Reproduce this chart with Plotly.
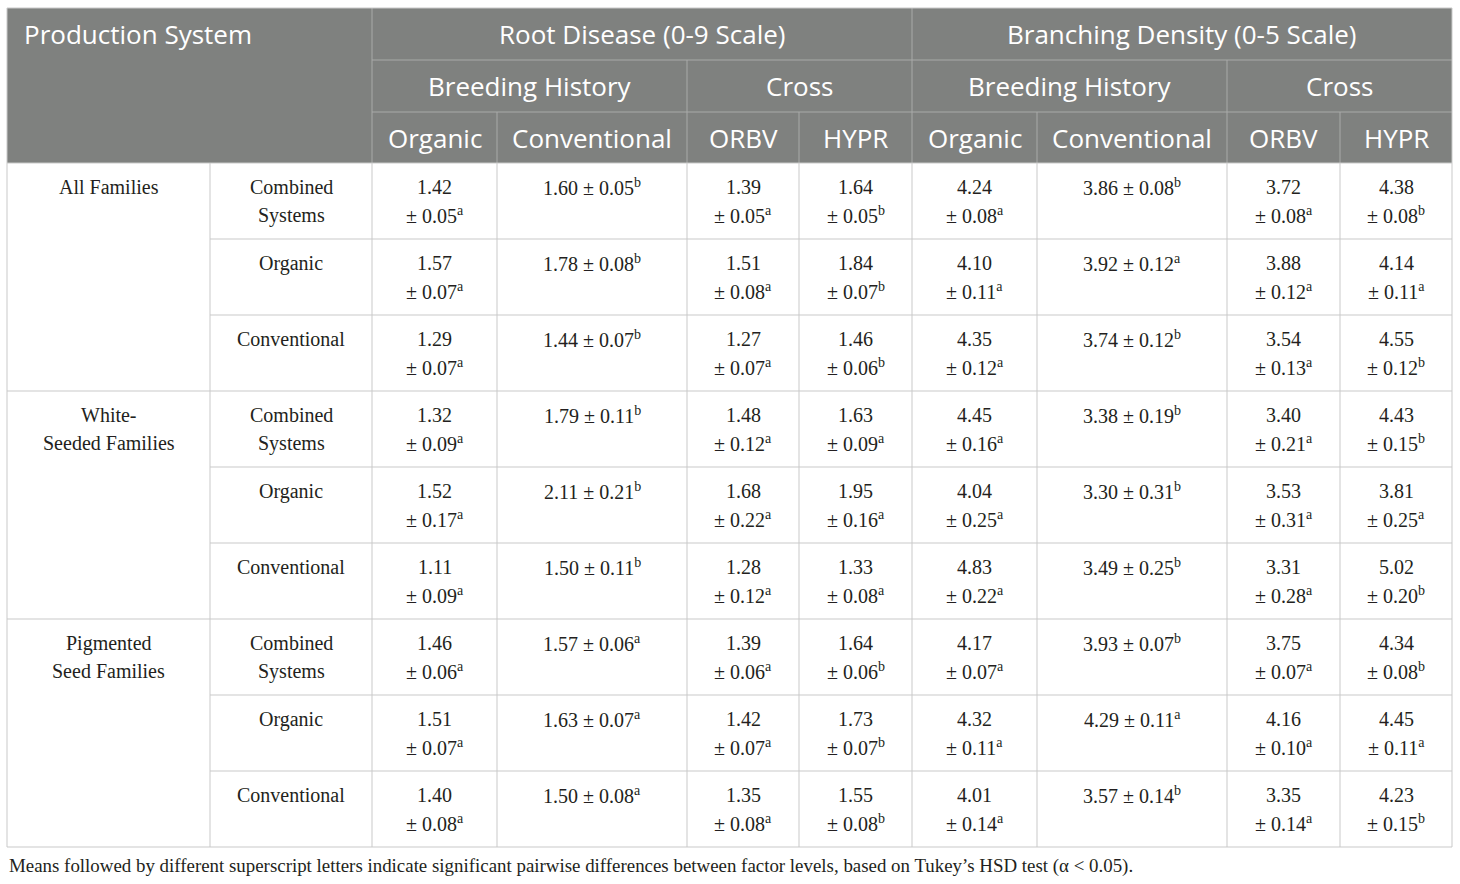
"""
Table of root disease and branching density means by production system,
redrawn with Plotly shapes and annotations.
"""

from plotly import graph_objects as go

# ---- table text / data ------------------------------------------------------
GROUPS = ["All Families", "White-<br>Seeded Families", "Pigmented<br>Seed Families"]
SYSTEMS = ["Combined<br>Systems", "Organic", "Conventional"]

TRAITS = ["Root Disease (0-9 Scale)", "Branching Density (0-5 Scale)"]
FACTORS = ["Breeding History", "Cross"]
LEVELS = ["Organic", "Conventional", "ORBV", "HYPR"]

rd_org_mean = [1.42, 1.57, 1.29, 1.32, 1.52, 1.11, 1.46, 1.51, 1.40]
rd_org_se = [0.05, 0.07, 0.07, 0.09, 0.17, 0.09, 0.06, 0.07, 0.08]
rd_org_let = "aaaaaaaaa"
rd_conv_mean = [1.60, 1.78, 1.44, 1.79, 2.11, 1.50, 1.57, 1.63, 1.50]
rd_conv_se = [0.05, 0.08, 0.07, 0.11, 0.21, 0.11, 0.06, 0.07, 0.08]
rd_conv_let = "bbbbbbaaa"
rd_orbv_mean = [1.39, 1.51, 1.27, 1.48, 1.68, 1.28, 1.39, 1.42, 1.35]
rd_orbv_se = [0.05, 0.08, 0.07, 0.12, 0.22, 0.12, 0.06, 0.07, 0.08]
rd_orbv_let = "aaaaaaaaa"
rd_hypr_mean = [1.64, 1.84, 1.46, 1.63, 1.95, 1.33, 1.64, 1.73, 1.55]
rd_hypr_se = [0.05, 0.07, 0.06, 0.09, 0.16, 0.08, 0.06, 0.07, 0.08]
rd_hypr_let = "bbbaaabbb"

bd_org_mean = [4.24, 4.10, 4.35, 4.45, 4.04, 4.83, 4.17, 4.32, 4.01]
bd_org_se = [0.08, 0.11, 0.12, 0.16, 0.25, 0.22, 0.07, 0.11, 0.14]
bd_org_let = "aaaaaaaaa"
bd_conv_mean = [3.86, 3.92, 3.74, 3.38, 3.30, 3.49, 3.93, 4.29, 3.57]
bd_conv_se = [0.08, 0.12, 0.12, 0.19, 0.31, 0.25, 0.07, 0.11, 0.14]
bd_conv_let = "babbbbbab"
bd_orbv_mean = [3.72, 3.88, 3.54, 3.40, 3.53, 3.31, 3.75, 4.16, 3.35]
bd_orbv_se = [0.08, 0.12, 0.13, 0.21, 0.31, 0.28, 0.07, 0.10, 0.14]
bd_orbv_let = "aaaaaaaaa"
bd_hypr_mean = [4.38, 4.14, 4.55, 4.43, 3.81, 5.02, 4.34, 4.45, 4.23]
bd_hypr_se = [0.08, 0.11, 0.12, 0.15, 0.25, 0.20, 0.08, 0.11, 0.15]
bd_hypr_let = "babbabbab"

FOOTNOTE = ("Means followed by different superscript letters indicate significant pairwise "
            "differences between factor levels, based on Tukey\u2019s HSD test (\u03b1 < 0.05).")

# ---- layout constants -------------------------------------------------------
W, H = 1460, 884
COL_EDGES = [7, 210, 372, 497, 687, 799, 912, 1037, 1227, 1340, 1452]
HEAD_EDGES = [8, 60, 112, 163]
ROW_H = 76
HEAD_FILL = "#7f817f"
HEAD_LINE = "#a9aaa9"
GRID = "#c9c9c9"
TEXT = "#231f20"
SANS = "Open Sans"
SERIF = "Liberation Serif"
HEAD_SIZE = 26
BODY_SIZE = 20
NOTE_SIZE = 18.9


def hline(fig, y, x0, x1, color):
	fig.add_shape(type="line", x0=x0, x1=x1, y0=y, y1=y, line=dict(color=color, width=1))


def vline(fig, x, y0, y1, color):
	fig.add_shape(type="line", x0=x, x1=x, y0=y0, y1=y1, line=dict(color=color, width=1))


def text(fig, x, y, s, size, color, font, anchor="center"):
	fig.add_annotation(x=x, y=y, text=s, showarrow=False, xanchor=anchor, yanchor="middle",
					   font=dict(size=size, color=color, family=font))


def make_table() -> go.Figure:
	fig = go.Figure()
	columns = [
		(rd_org_mean, rd_org_se, rd_org_let), (rd_conv_mean, rd_conv_se, rd_conv_let),
		(rd_orbv_mean, rd_orbv_se, rd_orbv_let), (rd_hypr_mean, rd_hypr_se, rd_hypr_let),
		(bd_org_mean, bd_org_se, bd_org_let), (bd_conv_mean, bd_conv_se, bd_conv_let),
		(bd_orbv_mean, bd_orbv_se, bd_orbv_let), (bd_hypr_mean, bd_hypr_se, bd_hypr_let),
	]
	n_rows = len(rd_org_mean)
	body_top = HEAD_EDGES[-1]
	row_edges = [body_top + i * ROW_H for i in range(n_rows + 1)]
	left, right = COL_EDGES[0], COL_EDGES[-1]
	data_edges = COL_EDGES[2:]

	# header block
	fig.add_shape(type="rect", x0=left, x1=right, y0=HEAD_EDGES[0], y1=HEAD_EDGES[-1],
				  fillcolor=HEAD_FILL, line=dict(width=0), layer="below")
	vline(fig, data_edges[0], HEAD_EDGES[0], HEAD_EDGES[-1], HEAD_LINE)
	hline(fig, HEAD_EDGES[1], data_edges[0], right, HEAD_LINE)
	hline(fig, HEAD_EDGES[2], data_edges[0], right, HEAD_LINE)
	for i in range(1, len(data_edges) - 1):
		if i % 4 == 0:
			top = HEAD_EDGES[0]
		elif i % 2 == 0:
			top = HEAD_EDGES[1]
		else:
			top = HEAD_EDGES[2]
		vline(fig, data_edges[i], top, HEAD_EDGES[-1], HEAD_LINE)

	text(fig, 22, (HEAD_EDGES[0] + HEAD_EDGES[1]) / 2, "Production System", HEAD_SIZE, "white", SANS, "left")
	for t, name in enumerate(TRAITS):
		xc = (data_edges[4 * t] + data_edges[4 * t + 4]) / 2
		text(fig, xc, (HEAD_EDGES[0] + HEAD_EDGES[1]) / 2, name, HEAD_SIZE, "white", SANS)
		for f, fac in enumerate(FACTORS):
			k = 4 * t + 2 * f
			text(fig, (data_edges[k] + data_edges[k + 2]) / 2, (HEAD_EDGES[1] + HEAD_EDGES[2]) / 2,
				 fac, HEAD_SIZE, "white", SANS)
		for l, lev in enumerate(LEVELS):
			k = 4 * t + l
			text(fig, (data_edges[k] + data_edges[k + 1]) / 2, (HEAD_EDGES[2] + HEAD_EDGES[3]) / 2,
				 lev, HEAD_SIZE, "white", SANS)

	# body grid
	for x in COL_EDGES:
		vline(fig, x, body_top, row_edges[-1], GRID)
	for r, y in enumerate(row_edges):
		x0 = left if r % len(SYSTEMS) == 0 else COL_EDGES[1]
		hline(fig, y, x0, right, GRID)
	vline(fig, left, HEAD_EDGES[0], body_top, GRID)
	vline(fig, right, HEAD_EDGES[0], body_top, GRID)
	hline(fig, HEAD_EDGES[0], left, right, GRID)

	line1, line2 = 24, 52
	for g, grp in enumerate(GROUPS):
		top = row_edges[g * len(SYSTEMS)]
		for j, p in enumerate(grp.split("<br>")):
			text(fig, (COL_EDGES[0] + COL_EDGES[1]) / 2, top + (line1 if j == 0 else line2), p,
				 BODY_SIZE, TEXT, SERIF)

	for r in range(n_rows):
		top = row_edges[r]
		for j, p in enumerate(SYSTEMS[r % len(SYSTEMS)].split("<br>")):
			text(fig, (COL_EDGES[1] + COL_EDGES[2]) / 2, top + (line1 if j == 0 else line2), p,
				 BODY_SIZE, TEXT, SERIF)
		for c, (mean, se, let) in enumerate(columns):
			x0, x1 = data_edges[c], data_edges[c + 1]
			xc = (x0 + x1) / 2
			m = f"{mean[r]:.2f}"
			s = f"\u00b1 {se[r]:.2f}<sup>{let[r]}</sup>"
			if x1 - x0 > 150:
				text(fig, xc, top + line1, f"{m} {s}", BODY_SIZE, TEXT, SERIF)
			else:
				text(fig, xc, top + line1, m, BODY_SIZE, TEXT, SERIF)
				text(fig, xc, top + line2, s, BODY_SIZE, TEXT, SERIF)

	text(fig, left, 866, FOOTNOTE, NOTE_SIZE, TEXT, SERIF, "left")

	fig.update_layout(
		width=W, height=H,
		margin=dict(l=0, r=0, t=0, b=0),
		paper_bgcolor="white", plot_bgcolor="white",
		xaxis=dict(visible=False, range=[0, W], fixedrange=True),
		yaxis=dict(visible=False, range=[H, 0], fixedrange=True),
		showlegend=False,
	)
	return fig


if __name__ == "__main__":
	fig = make_table()
	# drop the browser's default body margin so the table sits at the page origin
	fig.write_html("out.html", config={"displayModeBar": False},
				   post_script="document.body.style.margin='0';")
